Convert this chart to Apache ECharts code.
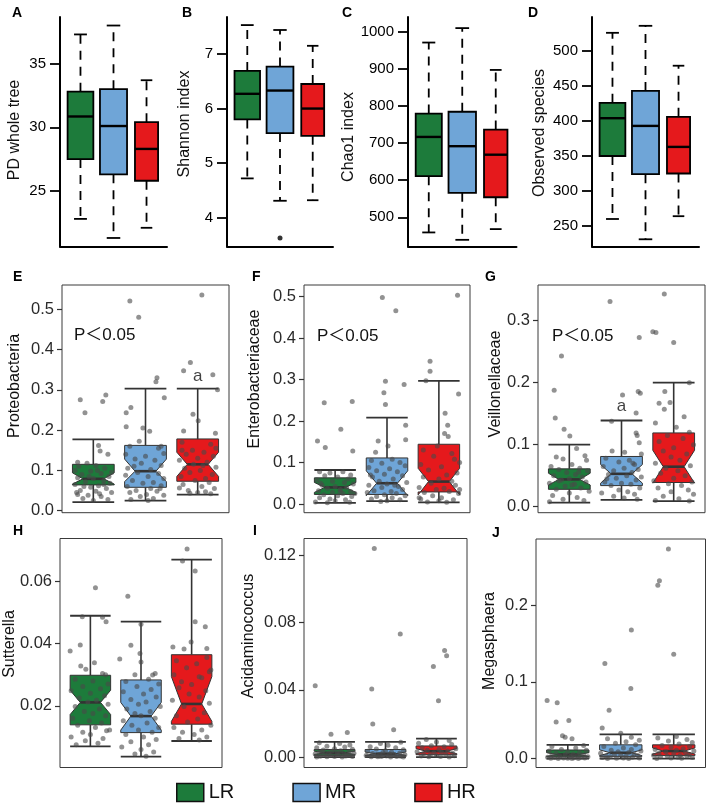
<!DOCTYPE html>
<html><head><meta charset="utf-8">
<script src="https://cdn.jsdelivr.net/npm/echarts@6/dist/echarts.min.js"></script>
<style>html,body{margin:0;padding:0;background:#fff}#c{width:708px;height:804px}</style>
</head><body><div id="c"></div>
<script>
// ---------- DATA ----------
const groups = ['LR', 'MR', 'HR'];
// top row: [whiskerLow, Q1, median, Q3, whiskerHigh] per group
const pdStats = [[22.8, 27.5, 30.85, 32.8, 37.3], [21.3, 26.3, 30.1, 33.0, 38.0], [22.1, 25.8, 28.3, 30.4, 33.7]];
const shannonStats = [[4.72, 5.80, 6.27, 6.69, 7.53], [4.31, 5.55, 6.33, 6.77, 7.44], [4.32, 5.50, 6.00, 6.45, 7.15]];
const shannonOutliers = [[2, 3.63]];
const chao1Stats = [[459, 611, 717, 780, 972], [439, 566, 692, 785, 1011], [468, 554, 669, 737, 898]];
const observedStats = [[260, 350, 404, 426, 526], [231, 324, 393, 443, 536], [264, 325, 363, 406, 479]];
const pdTicks = [25, 30, 35];
const shannonTicks = [4, 5, 6, 7];
const chao1Ticks = [500, 600, 700, 800, 900, 1000];
const observedTicks = [250, 300, 350, 400, 450, 500];

// lower panels: [whiskerLow, Q1, median, Q3, whiskerHigh] and notch [low, high]
const proteoStats = [[0.021, 0.064, 0.079, 0.115, 0.177], [0.025, 0.058, 0.098, 0.162, 0.303], [0.040, 0.073, 0.115, 0.178, 0.303]];
const proteoNotch = [[0.066, 0.094], [0.072, 0.128], [0.085, 0.145]];
const enteroStats = [[0.0025, 0.023, 0.040, 0.063, 0.082], [0.007, 0.023, 0.050, 0.111, 0.208], [0.004, 0.029, 0.054, 0.144, 0.297]];
const enteroNotch = [[0.028, 0.052], [0.020, 0.080], [0.022, 0.086]];
const veilStats = [[0.0067, 0.028, 0.044, 0.061, 0.100], [0.011, 0.034, 0.053, 0.081, 0.139], [0.009, 0.039, 0.0645, 0.119, 0.200]];
const veilNotch = [[0.035, 0.054], [0.038, 0.068], [0.038, 0.091]];
const suttStats = [[0.0070, 0.0139, 0.0211, 0.0298, 0.0489], [0.0037, 0.0114, 0.0167, 0.0283, 0.0470], [0.0087, 0.0141, 0.0206, 0.0364, 0.0669]];
const suttNotch = [[0.0172, 0.0250], [0.0122, 0.0211], [0.0150, 0.0294]];
const acidStats = [[0, 0.0010, 0.0025, 0.0045, 0.0090], [0, 0.0008, 0.0020, 0.0045, 0.0090], [0, 0.0014, 0.0035, 0.0066, 0.0110]];
const acidNotch = [[0.0015, 0.0035], [0.0010, 0.0030], [0.0020, 0.0050]];
const megaStats = [[0, 0.0023, 0.0054, 0.0113, 0.0180], [0, 0.0030, 0.0077, 0.0180, 0.0315], [0, 0.0040, 0.0099, 0.0180, 0.0315]];
const megaNotch = [[0.0030, 0.0078], [0.0040, 0.0115], [0.0060, 0.0140]];

const proteoTicks = [0, 0.1, 0.2, 0.3, 0.4, 0.5];
const enteroTicks = [0, 0.1, 0.2, 0.3, 0.4, 0.5];
const veilTicks = [0, 0.1, 0.2, 0.3];
const suttTicks = [0.02, 0.04, 0.06];
const acidTicks = [0, 0.04, 0.08, 0.12];
const megaTicks = [0, 0.1, 0.2];

// jittered sample points: [jitter offset from group centre, value]
const proteoPoints = [
 [[-0.25,0.275],[-0.16,0.243],[0.24,0.287],[0.18,0.271],[0.10,0.162],[0.13,0.148],[0.28,0.140],[-0.30,0.12],[-0.12,0.118],[0.05,0.112],[0.22,0.105],[-0.35,0.100],[0.35,0.095],[-0.05,0.098],[0.15,0.092],[-0.22,0.090],[0.30,0.085],[-0.30,0.082],[0.0,0.080],[0.20,0.075],[-0.15,0.072],[0.32,0.068],[-0.35,0.065],[0.10,0.062],[-0.05,0.058],[0.25,0.055],[-0.25,0.050],[0.05,0.048],[0.35,0.045],[-0.30,0.040],[-0.10,0.038],[0.15,0.035],[-0.20,0.030],[0.28,0.028],[0.0,0.025],[-0.32,0.045],[0.12,0.042],[-0.18,0.060],[0.20,0.065],[-0.08,0.085],[0.08,0.100],[-0.28,0.110]],
 [[-0.30,0.52],[-0.13,0.48],[0.22,0.33],[0.20,0.32],[0.36,0.28],[-0.28,0.256],[-0.37,0.243],[-0.37,0.208],[-0.05,0.205],[0.08,0.197],[-0.12,0.172],[0.25,0.155],[0.30,0.16],[-0.30,0.16],[0.35,0.142],[-0.38,0.14],[0.0,0.135],[-0.20,0.128],[0.18,0.125],[-0.08,0.118],[0.30,0.112],[-0.34,0.105],[0.10,0.102],[-0.15,0.095],[0.25,0.092],[-0.38,0.088],[0.05,0.085],[0.35,0.080],[-0.25,0.075],[0.15,0.070],[-0.05,0.068],[0.30,0.062],[-0.35,0.060],[0.10,0.055],[-0.18,0.050],[0.22,0.048],[-0.30,0.045],[0.02,0.040],[0.35,0.038],[-0.10,0.035],[0.15,0.030],[-0.28,0.028],[0.05,0.025],[0.28,0.055],[-0.22,0.11]],
 [[0.08,0.535],[-0.14,0.368],[-0.27,0.347],[0.29,0.337],[0.38,0.30],[-0.09,0.239],[0.01,0.223],[-0.27,0.198],[0.34,0.192],[-0.30,0.17],[0.25,0.165],[-0.10,0.150],[0.12,0.145],[-0.22,0.140],[0.30,0.135],[0.0,0.130],[-0.35,0.125],[0.18,0.120],[-0.08,0.115],[0.10,0.112],[0.35,0.108],[-0.25,0.105],[0.05,0.100],[-0.15,0.095],[0.28,0.090],[-0.32,0.085],[0.15,0.080],[-0.05,0.075],[0.22,0.070],[-0.28,0.065],[0.08,0.060],[0.32,0.055],[-0.18,0.050],[0.0,0.045],[0.25,0.042],[-0.30,0.150],[0.35,0.155],[-0.35,0.056],[-0.15,0.043],[0.15,0.047]]
];
const enteroPoints = [
 [[-0.21,0.244],[0.33,0.247],[0.11,0.18],[-0.34,0.152],[-0.19,0.136],[0.34,0.128],[-0.3,0.078],[-0.1,0.075],[0.15,0.078],[0.3,0.070],[-0.2,0.068],[0.05,0.065],[0.25,0.060],[-0.35,0.058],[-0.05,0.055],[0.18,0.052],[0.35,0.048],[-0.25,0.045],[0.0,0.042],[0.22,0.040],[-0.15,0.038],[0.1,0.035],[-0.32,0.032],[0.3,0.030],[-0.05,0.028],[0.15,0.025],[-0.22,0.022],[0.05,0.020],[0.32,0.018],[-0.3,0.015],[-0.1,0.012],[0.2,0.010],[0.0,0.008],[-0.38,0.005],[0.28,0.004],[-0.15,0.003],[0.1,0.030],[-0.28,0.050],[0.38,0.025]],
 [[-0.09,0.498],[0.17,0.466],[-0.03,0.296],[0.33,0.288],[-0.06,0.268],[-0.03,0.24],[0.36,0.19],[0.36,0.155],[-0.17,0.152],[0.02,0.14],[-0.22,0.125],[0.1,0.108],[-0.3,0.105],[0.25,0.100],[-0.1,0.098],[0.35,0.092],[-0.35,0.088],[0.05,0.085],[-0.2,0.080],[0.2,0.078],[-0.05,0.072],[0.3,0.068],[-0.28,0.065],[0.12,0.060],[-0.15,0.055],[0.38,0.052],[0.0,0.048],[-0.35,0.045],[0.22,0.042],[-0.1,0.040],[0.3,0.035],[-0.25,0.032],[0.08,0.030],[-0.38,0.028],[0.18,0.025],[-0.05,0.022],[0.35,0.020],[-0.2,0.018],[0.1,0.015],[-0.3,0.012],[0.25,0.010],[0.0,0.008],[-0.12,0.006],[0.15,0.045],[-0.32,0.07]],
 [[0.36,0.503],[-0.17,0.344],[-0.17,0.32],[-0.25,0.297],[0.38,0.265],[0.12,0.219],[0.17,0.19],[0.11,0.17],[0.18,0.163],[-0.03,0.14],[0.40,0.1],[-0.3,0.13],[0.25,0.122],[-0.1,0.115],[0.3,0.108],[-0.35,0.095],[0.05,0.090],[-0.2,0.082],[0.35,0.075],[0.15,0.070],[-0.3,0.065],[0.0,0.060],[0.25,0.055],[-0.15,0.050],[0.32,0.045],[-0.38,0.040],[0.1,0.038],[-0.05,0.035],[0.2,0.030],[-0.28,0.028],[0.38,0.025],[-0.12,0.020],[0.05,0.015],[-0.35,0.012],[0.28,0.010],[0.0,0.008],[-0.22,0.005],[0.15,0.004],[-0.38,0.015],[0.4,0.035]]
];
const veilPoints = [
 [[-0.15,0.243],[-0.29,0.188],[-0.27,0.143],[-0.10,0.125],[0.01,0.114],[0.14,0.094],[0.30,0.082],[-0.25,0.080],[0.33,0.075],[-0.12,0.077],[-0.35,0.065],[0.05,0.068],[0.2,0.062],[-0.2,0.060],[0.35,0.058],[-0.05,0.055],[0.12,0.052],[-0.3,0.050],[0.25,0.048],[0.0,0.045],[-0.15,0.043],[0.32,0.040],[-0.38,0.038],[0.1,0.036],[-0.08,0.033],[0.22,0.030],[-0.25,0.028],[0.38,0.025],[0.0,0.022],[-0.32,0.018],[0.15,0.015],[-0.12,0.012],[0.28,0.010],[-0.38,0.008],[0.05,0.035],[-0.2,0.042],[0.18,0.056]],
 [[-0.22,0.331],[0.34,0.273],[0.02,0.18],[0.32,0.186],[0.36,0.183],[0.28,0.151],[-0.19,0.138],[0.28,0.119],[0.30,0.115],[0.34,0.103],[-0.18,0.090],[0.06,0.088],[0.38,0.085],[-0.3,0.078],[0.15,0.075],[-0.05,0.072],[0.25,0.068],[-0.35,0.065],[0.05,0.062],[0.32,0.060],[-0.15,0.058],[0.2,0.055],[-0.25,0.052],[0.1,0.050],[0.38,0.048],[-0.1,0.046],[0.28,0.043],[-0.32,0.040],[0.0,0.038],[0.18,0.036],[-0.2,0.034],[0.35,0.030],[-0.05,0.027],[0.12,0.024],[-0.38,0.022],[0.25,0.020],[-0.15,0.017],[0.05,0.014],[0.3,0.012],[-0.28,0.045],[0.22,0.07]],
 [[-0.18,0.343],[-0.40,0.282],[-0.34,0.281],[0.0,0.265],[0.30,0.200],[-0.17,0.186],[-0.07,0.168],[-0.28,0.167],[-0.18,0.157],[0.2,0.145],[-0.35,0.135],[0.05,0.128],[0.3,0.120],[-0.12,0.115],[0.18,0.110],[-0.28,0.105],[0.38,0.100],[0.0,0.095],[-0.2,0.090],[0.25,0.085],[-0.05,0.080],[0.12,0.075],[-0.35,0.070],[0.32,0.066],[-0.15,0.062],[0.08,0.058],[-0.25,0.054],[0.22,0.050],[0.0,0.046],[-0.38,0.042],[0.35,0.040],[-0.1,0.037],[0.15,0.034],[-0.3,0.030],[0.28,0.027],[-0.05,0.024],[0.38,0.020],[-0.2,0.017],[0.1,0.013],[-0.35,0.010],[0.3,0.009]]
];
const suttPoints = [
 [[0.10,0.0579],[-0.16,0.0486],[0.24,0.0484],[0.31,0.0470],[-0.40,0.0376],[-0.20,0.0395],[-0.19,0.0328],[0.08,0.0338],[-0.09,0.0317],[0.24,0.0304],[0.30,0.0300],[-0.3,0.0285],[0.05,0.0280],[0.35,0.0270],[-0.15,0.0262],[0.2,0.0255],[-0.38,0.0248],[0.0,0.0240],[0.28,0.0232],[-0.22,0.0225],[0.12,0.0218],[-0.05,0.0212],[0.35,0.0205],[-0.3,0.0198],[0.18,0.0190],[-0.12,0.0182],[0.05,0.0175],[0.3,0.0168],[-0.35,0.0160],[-0.02,0.0152],[0.22,0.0145],[-0.25,0.0138],[0.1,0.0130],[0.38,0.0122],[-0.15,0.0115],[0.0,0.0108],[-0.38,0.0100],[0.25,0.0095],[-0.1,0.0088],[0.15,0.0080],[-0.28,0.0075],[0.32,0.0120]],
 [[-0.26,0.0552],[-0.42,0.0350],[0.0,0.0462],[-0.02,0.0368],[0.0,0.0341],[0.28,0.0304],[-0.12,0.0300],[0.23,0.0299],[-0.2,0.0394],[0.15,0.0285],[-0.3,0.0278],[0.35,0.0270],[-0.08,0.0262],[0.2,0.0252],[-0.35,0.0245],[0.05,0.0238],[0.3,0.0228],[-0.2,0.0220],[0.1,0.0212],[-0.05,0.0205],[0.38,0.0198],[-0.28,0.0190],[0.18,0.0182],[-0.12,0.0175],[0.0,0.0168],[0.28,0.0160],[-0.35,0.0152],[0.12,0.0145],[-0.18,0.0138],[0.35,0.0130],[-0.05,0.0122],[0.22,0.0115],[-0.3,0.0108],[0.05,0.0100],[0.3,0.0092],[-0.2,0.0085],[0.15,0.0075],[-0.38,0.0068],[0.0,0.0060],[0.25,0.0052],[-0.12,0.0045],[0.1,0.0038]],
 [[-0.09,0.0703],[-0.18,0.0665],[0.07,0.0633],[0.07,0.0470],[0.27,0.0454],[-0.01,0.0405],[-0.37,0.0389],[-0.15,0.0382],[0.30,0.0384],[0.35,0.0309],[0.15,0.0293],[-0.20,0.0277],[0.3,0.0355],[-0.3,0.0345],[0.1,0.0335],[-0.1,0.0322],[0.38,0.0315],[-0.35,0.0300],[0.2,0.0290],[0.0,0.0268],[-0.25,0.0258],[0.28,0.0248],[-0.05,0.0238],[0.15,0.0228],[-0.38,0.0218],[0.35,0.0208],[-0.15,0.0198],[0.05,0.0188],[0.25,0.0178],[-0.3,0.0168],[0.12,0.0158],[-0.08,0.0148],[0.38,0.0138],[-0.35,0.0130],[0.2,0.0122],[-0.18,0.0115],[0.05,0.0108],[0.3,0.0100],[-0.25,0.0095],[0.15,0.0090]]
];
const acidPoints = [
 [[-0.38,0.0424],[-0.07,0.0136],[0.25,0.0146],[-0.3,0.0085],[0.1,0.0080],[0.3,0.0072],[-0.15,0.0065],[0.2,0.0060],[-0.35,0.0055],[0.0,0.0050],[0.35,0.0046],[-0.22,0.0042],[0.12,0.0038],[-0.05,0.0035],[0.28,0.0032],[-0.3,0.0029],[0.05,0.0026],[-0.12,0.0024],[0.38,0.0022],[0.18,0.0020],[-0.38,0.0018],[-0.2,0.0015],[0.08,0.0013],[0.3,0.0011],[-0.08,0.0009],[0.22,0.0007],[-0.28,0.0005],[0.0,0.0004],[0.35,0.0003],[-0.15,0.0002],[0.15,0.0001],[-0.35,0.0001],[0.25,0.0010],[-0.25,0.0035]],
 [[-0.22,0.1239],[0.29,0.0731],[-0.27,0.0404],[-0.25,0.0196],[0.16,0.0162],[0.3,0.0088],[-0.1,0.0080],[0.05,0.0070],[-0.3,0.0062],[0.2,0.0055],[-0.18,0.0048],[0.35,0.0043],[0.0,0.0038],[-0.35,0.0034],[0.12,0.0030],[-0.05,0.0027],[0.28,0.0024],[-0.25,0.0021],[0.08,0.0018],[-0.12,0.0016],[0.38,0.0014],[0.18,0.0012],[-0.38,0.0010],[-0.2,0.0008],[0.02,0.0006],[0.3,0.0005],[-0.08,0.0004],[0.22,0.0003],[-0.28,0.0002],[0.1,0.0001],[0.35,0.0001],[-0.15,0.0002]],
 [[0.16,0.0634],[0.20,0.0602],[-0.06,0.0539],[0.04,0.0335],[-0.2,0.0105],[0.25,0.0098],[0.0,0.0090],[-0.35,0.0082],[0.3,0.0075],[-0.1,0.0068],[0.15,0.0062],[-0.28,0.0056],[0.38,0.0050],[0.05,0.0045],[-0.18,0.0040],[0.22,0.0036],[-0.38,0.0032],[0.1,0.0028],[-0.05,0.0025],[0.32,0.0022],[-0.25,0.0019],[0.18,0.0016],[-0.12,0.0013],[0.0,0.0010],[0.35,0.0008],[-0.3,0.0006],[0.08,0.0004],[-0.15,0.0002],[0.25,0.0001]]
];
const megaPoints = [
 [[-0.39,0.0757],[-0.20,0.0727],[-0.22,0.0479],[0.02,0.0496],[-0.1,0.030],[-0.05,0.028],[0.08,0.026],[0.3,0.017],[-0.3,0.016],[0.15,0.014],[-0.12,0.012],[0.35,0.011],[-0.35,0.010],[0.0,0.009],[0.22,0.008],[-0.22,0.007],[0.1,0.006],[-0.05,0.0055],[0.3,0.005],[-0.3,0.0045],[0.18,0.004],[-0.15,0.0035],[0.05,0.003],[0.38,0.0025],[-0.38,0.002],[0.25,0.0018],[-0.25,0.0015],[0.12,0.0012],[-0.08,0.001],[0.32,0.0008],[-0.32,0.0006],[0.0,0.0004],[0.2,0.0003],[-0.18,0.0002],[0.08,0.0001]],
 [[-0.30,0.124],[0.20,0.1675],[0.19,0.0914],[-0.22,0.063],[-0.35,0.040],[0.0,0.033],[0.2,0.028],[-0.25,0.026],[0.35,0.024],[0.1,0.022],[-0.1,0.020],[0.28,0.018],[-0.32,0.016],[0.05,0.014],[0.2,0.012],[-0.18,0.011],[0.38,0.010],[-0.05,0.009],[0.15,0.008],[-0.38,0.007],[0.25,0.006],[-0.12,0.005],[0.0,0.0045],[0.32,0.004],[-0.28,0.0035],[0.1,0.003],[-0.2,0.0025],[0.22,0.002],[-0.35,0.0015],[0.05,0.001],[0.35,0.0008],[-0.08,0.0005],[0.15,0.0003],[-0.25,0.0002]],
 [[-0.10,0.2729],[-0.27,0.2315],[-0.30,0.2259],[0.0,0.1358],[0.05,0.029],[-0.3,0.027],[0.25,0.025],[-0.1,0.023],[0.35,0.021],[0.1,0.019],[-0.22,0.017],[0.3,0.016],[-0.05,0.015],[0.18,0.013],[-0.35,0.012],[0.05,0.011],[0.38,0.010],[-0.15,0.009],[0.22,0.008],[-0.28,0.007],[0.0,0.006],[0.3,0.005],[-0.38,0.0045],[0.12,0.004],[-0.12,0.0035],[0.25,0.003],[-0.25,0.0025],[0.08,0.002],[0.35,0.0015],[-0.05,0.001],[0.15,0.0006],[-0.32,0.0003]]
];

// ---------- STYLE / LAYOUT ----------
const colors = ['#1d7b3b', '#6fa5d7', '#e5191c'];
const FONT = '"Liberation Sans", Arial, sans-serif';
const rBoxWidths = [0.78, 0.82, 0.70];

const panels = [
  {kind:'r', stats:pdStats, ticks:pdTicks, y:[20.63,38.67], g:{left:60,top:17,width:107,height:229.5}, title:'PD whole tree', t:[15,130], L:'A', l:[12,6]},
  {kind:'r', stats:shannonStats, outliers:shannonOutliers, ticks:shannonTicks, y:[3.472,7.678], g:{left:227,top:17,width:106,height:229.5}, title:'Shannon index', t:[185,124], L:'B', l:[182,6]},
  {kind:'r', stats:chao1Stats, ticks:chao1Ticks, y:[421,1041], g:{left:408,top:17,width:108.5,height:229.5}, title:'Chao1 index', t:[348.5,137], L:'C', l:[342,6]},
  {kind:'r', stats:observedStats, ticks:observedTicks, y:[220.7,548.6], g:{left:592,top:17,width:107,height:229.5}, title:'Observed species', t:[539.5,133], L:'D', l:[528,6]},
  {kind:'g', stats:proteoStats, notch:proteoNotch, pts:proteoPoints, ticks:proteoTicks, dec:1, y:[-0.005,0.560], g:{left:62,top:285,width:167,height:227.7}, title:'Proteobacteria', t:[15,386], L:'E', l:[13,270], p:[74,335.5], a:[3,0.334]},
  {kind:'g', stats:enteroStats, notch:enteroNotch, pts:enteroPoints, ticks:enteroTicks, dec:1, y:[-0.021,0.528], g:{left:304,top:285,width:166,height:227.7}, title:'Enterobacteriaceae', t:[255,379], L:'F', l:[252,270], p:[317,336.5]},
  {kind:'g', stats:veilStats, notch:veilNotch, pts:veilPoints, ticks:veilTicks, dec:1, y:[-0.0097,0.3576], g:{left:538,top:285,width:167,height:227.7}, title:'Veillonellaceae', t:[495.5,384], L:'G', l:[485,270], p:[552,336], a:[2,0.162]},
  {kind:'g', stats:suttStats, notch:suttNotch, pts:suttPoints, ticks:suttTicks, dec:2, y:[0.0002,0.0737], g:{left:60,top:538.5,width:162,height:229}, title:'Sutterella', t:[9.5,644], L:'H', l:[13,524]},
  {kind:'g', stats:acidStats, notch:acidNotch, pts:acidPoints, ticks:acidTicks, dec:2, y:[-0.0062,0.1299], g:{left:304,top:538.5,width:163,height:229}, title:'Acidaminococcus', t:[248.5,636], L:'I', l:[253,524]},
  {kind:'g', stats:megaStats, notch:megaNotch, pts:megaPoints, ticks:megaTicks, dec:1, y:[-0.0115,0.286], g:{left:536,top:539,width:169.5,height:228.5}, title:'Megasphaera', t:[489.5,641], L:'J', l:[492,526]}
];

// ---------- RENDERERS ----------
function renderR(params, api) {
  const x = api.value(0);
  const bw = api.value(6);
  const half = api.size([bw, 0])[0] / 2;
  const cx = api.coord([x, api.value(3)])[0];
  const Y = v => api.coord([x, v])[1];
  const yLo = Y(api.value(1)), y1 = Y(api.value(2)), ym = Y(api.value(3)), y3 = Y(api.value(4)), yHi = Y(api.value(5));
  const color = api.visual('color');
  const dash = {stroke:'#000', lineWidth:1.8, lineDash:[9,7]};
  const solid = {stroke:'#000', lineWidth:1.8};
  return {type:'group', children:[
    {type:'line', shape:{x1:cx,y1:y3,x2:cx,y2:yHi}, style:dash},
    {type:'line', shape:{x1:cx,y1:y1,x2:cx,y2:yLo}, style:dash},
    {type:'line', shape:{x1:cx-half/2,y1:yHi,x2:cx+half/2,y2:yHi}, style:solid},
    {type:'line', shape:{x1:cx-half/2,y1:yLo,x2:cx+half/2,y2:yLo}, style:solid},
    {type:'rect', shape:{x:cx-half,y:y3,width:2*half,height:y1-y3}, style:{fill:color,stroke:'#000',lineWidth:1.8}},
    {type:'line', shape:{x1:cx-half,y1:ym,x2:cx+half,y2:ym}, style:{stroke:'#000',lineWidth:2.4}}
  ]};
}
function renderG(params, api) {
  const x = api.value(0);
  const half = api.size([0.8, 0])[0] / 2;
  const cx = api.coord([x, api.value(3)])[0];
  const Y = v => api.coord([x, v])[1];
  const yLo = Y(api.value(1)), y1 = Y(api.value(2)), ym = Y(api.value(3)), y3 = Y(api.value(4)), yHi = Y(api.value(5));
  const nLo = Y(api.value(6)), nHi = Y(api.value(7));
  const color = api.visual('color');
  const ln = {stroke:'#333', lineWidth:1.6};
  return {type:'group', children:[
    {type:'line', shape:{x1:cx,y1:y3,x2:cx,y2:yHi}, style:ln},
    {type:'line', shape:{x1:cx,y1:y1,x2:cx,y2:yLo}, style:ln},
    {type:'line', shape:{x1:cx-half,y1:yHi,x2:cx+half,y2:yHi}, style:{stroke:'#333',lineWidth:1.8}},
    {type:'line', shape:{x1:cx-half,y1:yLo,x2:cx+half,y2:yLo}, style:{stroke:'#333',lineWidth:1.8}},
    {type:'polygon', shape:{points:[[cx-half,y3],[cx+half,y3],[cx+half,nHi],[cx+half/2,ym],[cx+half,nLo],[cx+half,y1],[cx-half,y1],[cx-half,nLo],[cx-half/2,ym],[cx-half,nHi]]}, style:{fill:color,stroke:'#333',lineWidth:1}},
    {type:'line', shape:{x1:cx-half/2,y1:ym,x2:cx+half/2,y2:ym}, style:{stroke:'#333',lineWidth:2.6}}
  ]};
}

// ---------- BUILD OPTION ----------
const grid = [], xAxis = [], yAxis = [], series = [], graphic = [];
panels.forEach((p, i) => {
  const framed = p.kind === 'g';
  grid.push(Object.assign({show:framed, borderColor:'#3a3a3a', borderWidth:1, backgroundColor:'transparent'}, p.g));
  xAxis.push({type:'value', gridIndex:i, min: framed ? 0.4 : 0.38, max: framed ? 3.6 : 3.62,
    axisLine:{show:!framed, onZero:false, lineStyle:{color:'#000', width:2}},
    axisTick:{show:false}, axisLabel:{show:false}, splitLine:{show:false}});
  yAxis.push({type:'value', gridIndex:i, min:p.y[0], max:p.y[1],
    axisLine:{show:!framed, onZero:false, lineStyle:{color:'#000', width:2}},
    axisTick:{show:true, length: framed ? 5 : 10, customValues:p.ticks, lineStyle:{color: framed ? '#333' : '#000', width: framed ? 1.2 : 1.8}},
    axisLabel:{customValues:p.ticks, fontSize: framed ? 16.5 : 15, color: framed ? '#2a2a2a' : '#000', fontFamily:FONT, margin: framed ? 8 : 14,
      formatter: framed ? (v => v.toFixed(p.dec)) : (v => String(v))},
    splitLine:{show:false}});
  groups.forEach((gname, k) => {
    const s = p.stats[k];
    const item = framed ? [k + 1, s[0], s[1], s[2], s[3], s[4], p.notch[k][0], p.notch[k][1]]
                        : [k + 1, s[0], s[1], s[2], s[3], s[4], rBoxWidths[k]];
    series.push({type:'custom', name:gname, xAxisIndex:i, yAxisIndex:i, renderItem: framed ? renderG : renderR,
      itemStyle:{color:colors[k]}, data:[item], z:2, silent:true});
  });
  if (framed) {
    const data = [];
    p.pts.forEach((arr, k) => arr.forEach(pt => data.push([k + 1 + pt[0], pt[1]])));
    series.push({type:'scatter', xAxisIndex:i, yAxisIndex:i, data, symbolSize:5, z:3, silent:true,
      itemStyle:{color:'#4a4a4a', opacity:0.6}});
    if (p.a) {
      series.push({type:'scatter', xAxisIndex:i, yAxisIndex:i, data:[p.a], symbolSize:0, z:4, silent:true,
        label:{show:true, position:'inside', formatter:'a', fontSize:17, color:'#111', fontFamily:FONT}});
    }
    if (p.p) {
      graphic.push({type:'text', x:p.p[0], y:p.p[1], style:{text:'P\uFF1C0.05', font:'17px "Liberation Sans", "Noto Sans CJK SC", sans-serif', fill:'#111', textAlign:'left', textVerticalAlign:'middle'}});
    }
  }
  if (p.outliers) {
    series.push({type:'scatter', xAxisIndex:i, yAxisIndex:i, data:p.outliers, symbolSize:5, z:3, silent:true, itemStyle:{color:'#000'}});
  }
  graphic.push({type:'text', x:p.t[0], y:p.t[1], rotation:Math.PI/2, style:{text:p.title, font:'16px ' + FONT, fill:'#111', textAlign:'center', textVerticalAlign:'middle'}});
  graphic.push({type:'text', x:p.l[0], y:p.l[1], style:{text:p.L, font:'bold 14px ' + FONT, fill:'#000', textAlign:'left', textVerticalAlign:'top'}});
});

const chart = echarts.init(document.getElementById('c'), null, {renderer:'canvas'});
chart.setOption({
  animation:false,
  backgroundColor:'#fff',
  grid, xAxis, yAxis, series, graphic,
  legend:{data:groups, left:176, top:782.5, padding:0, icon:'rect', itemWidth:27, itemHeight:18, itemGap:58,
    itemStyle:{borderColor:'#111', borderWidth:1.5},
    textStyle:{fontSize:20, color:'#111', fontFamily:FONT}, selectedMode:false}
});
</script>
</body></html>
